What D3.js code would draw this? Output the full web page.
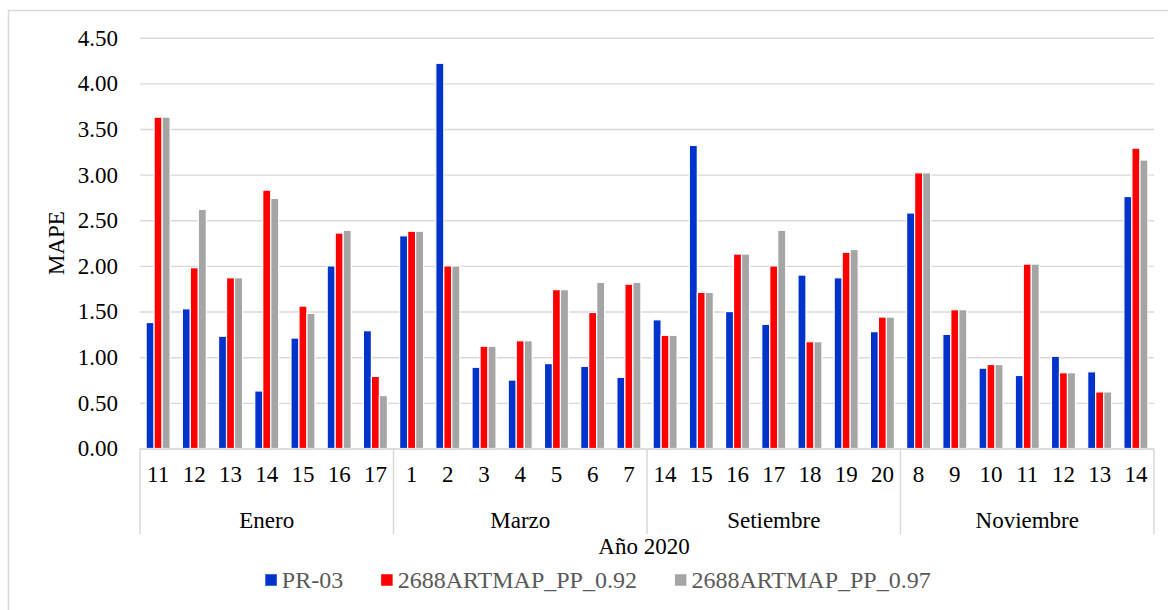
<!DOCTYPE html>
<html>
<head>
<meta charset="utf-8">
<script src="https://cdn.jsdelivr.net/npm/d3@7"></script>
<style>
  html, body { margin: 0; padding: 0; background: #fff; }
  svg { display: block; }
  svg text { font-family: "Liberation Serif", "Times New Roman", Tinos, "DejaVu Serif", serif !important; }
</style>
</head>
<body>
<svg id="chart" width="1168" height="610"></svg>
<script>
const monthNames = ["Enero", "Marzo", "Setiembre", "Noviembre"];
const monthDays = [
  ["11", "12", "13", "14", "15", "16", "17"],
  ["1", "2", "3", "4", "5", "6", "7"],
  ["14", "15", "16", "17", "18", "19", "20"],
  ["8", "9", "10", "11", "12", "13", "14"]
];
const seriesNames = ["PR-03", "2688ARTMAP_PP_0.92", "2688ARTMAP_PP_0.97"];
const pr03 = [1.38, 1.53, 1.23, 0.63, 1.21, 2.00, 1.29,
              2.33, 4.22, 0.89, 0.75, 0.93, 0.90, 0.78,
              1.41, 3.32, 1.50, 1.36, 1.90, 1.87, 1.28,
              2.58, 1.25, 0.88, 0.80, 1.01, 0.84, 2.76];
const artmap092 = [3.63, 1.98, 1.87, 2.83, 1.56, 2.36, 0.79,
                   2.38, 2.00, 1.12, 1.18, 1.74, 1.49, 1.80,
                   1.24, 1.71, 2.13, 2.00, 1.17, 2.15, 1.44,
                   3.02, 1.52, 0.92, 2.02, 0.83, 0.62, 3.29];
const artmap097 = [3.63, 2.62, 1.87, 2.74, 1.48, 2.39, 0.58,
                   2.38, 2.00, 1.12, 1.18, 1.74, 1.82, 1.82,
                   1.24, 1.71, 2.13, 2.39, 1.17, 2.18, 1.44,
                   3.02, 1.52, 0.92, 2.02, 0.83, 0.62, 3.16];
const yTicks = [0, 0.5, 1, 1.5, 2, 2.5, 3, 3.5, 4, 4.5];
const colors = ["#0033CC", "#FF0000", "#A5A5A5"];

const FONT = '"Liberation Serif", "Times New Roman", Tinos, "DejaVu Serif", serif';

// build categories
const cats = [];
monthNames.forEach((m, mi) => monthDays[mi].forEach((d, di) => cats.push({ key: m + "-" + d, month: m, day: d })));
const seriesValues = [pr03, artmap092, artmap097];

const svg = d3.select("#chart");
const W = 1168, H = 610;
const plot = { left: 140, right: 1154, top: 37.7, bottom: 448.5 };

svg.append("rect").attr("x", 0).attr("y", 0).attr("width", W).attr("height", H).attr("fill", "#fff");
svg.append("rect").attr("x", 8.5).attr("y", 10.5).attr("width", 1190).attr("height", 620)
  .attr("fill", "none").attr("stroke", "#d9d9d9").attr("stroke-width", 1.5);

const x0 = d3.scaleBand().domain(cats.map(c => c.key)).range([plot.left, plot.right]).paddingInner(0).paddingOuter(0);
const y = d3.scaleLinear().domain([0, 4.5]).range([plot.bottom, plot.top]);
const bw = x0.bandwidth();
const x1 = d3.scaleBand().domain(seriesNames).range([bw / 2 - 12, bw / 2 + 12]).padding(0);

// gridlines + y labels
const yAxis = d3.axisLeft(y).tickValues(yTicks).tickFormat(d3.format(".2f")).tickSize(-(plot.right - plot.left)).tickPadding(22);
const gy = svg.append("g").attr("transform", `translate(${plot.left},0)`).call(yAxis);
gy.attr("font-family", null);
gy.select(".domain").remove();
gy.selectAll(".tick line").attr("stroke", "#d9d9d9").attr("stroke-width", 1.4);
gy.selectAll(".tick text").attr("font-size", 23).attr("fill", "#000");

// bars
const gBars = svg.append("g");
cats.forEach((c, i) => {
  const g = gBars.append("g").attr("transform", `translate(${x0(c.key)},0)`);
  seriesNames.forEach((s, si) => {
    const v = seriesValues[si][i];
    g.append("rect")
      .attr("x", x1(s))
      .attr("y", y(v))
      .attr("width", x1.bandwidth())
      .attr("height", y(0) - y(v))
      .attr("fill", colors[si])
      .attr("stroke", "#fff")
      .attr("stroke-width", 1.2);
  });
});

// x axis (day labels)
const xAxis = d3.axisBottom(x0).tickSize(0).tickPadding(17).tickFormat(k => cats.find(c => c.key === k).day);
const gx = svg.append("g").attr("transform", `translate(0,${plot.bottom})`).call(xAxis);
gx.attr("font-family", null);
gx.select(".domain").remove();
gx.selectAll(".tick text").attr("font-size", 23).attr("fill", "#000");

// baseline
svg.append("line").attr("x1", plot.left).attr("x2", plot.right).attr("y1", plot.bottom + 0.5).attr("y2", plot.bottom + 0.5)
  .attr("stroke", "#d9d9d9").attr("stroke-width", 1.5);

// month separators + labels
let idx = 0;
const sepXs = [plot.left];
monthNames.forEach((m, mi) => {
  const first = cats[idx].key;
  const last = cats[idx + monthDays[mi].length - 1].key;
  const xs = x0(first), xe = x0(last) + bw;
  svg.append("text").attr("x", (xs + xe) / 2).attr("y", 520).attr("dy", "0.35em")
    .attr("text-anchor", "middle").attr("font-size", 23).attr("fill", "#000").text(m);
  sepXs.push(xe);
  idx += monthDays[mi].length;
});
sepXs.forEach(sx => {
  svg.append("line").attr("x1", sx).attr("x2", sx).attr("y1", plot.bottom).attr("y2", 534)
    .attr("stroke", "#d9d9d9").attr("stroke-width", 1.5);
});

// axis titles
svg.append("text").attr("x", (plot.left + plot.right) / 2 - 3).attr("y", 546).attr("dy", "0.35em")
  .attr("text-anchor", "middle").attr("font-size", 23).attr("fill", "#000").text("Año 2020");
svg.append("text").attr("transform", `translate(56,${(plot.top + plot.bottom) / 2}) rotate(-90)`).attr("dy", "0.35em")
  .attr("text-anchor", "middle").attr("font-size", 23).attr("fill", "#000").text("MAPE");

// legend
const leg = svg.append("g");
let lx = 0;
const sq = 11.5;
seriesNames.forEach((s, si) => {
  const it = leg.append("g").attr("transform", `translate(${lx},0)`);
  it.append("rect").attr("x", 0).attr("y", -sq / 2).attr("width", sq).attr("height", sq).attr("fill", colors[si]);
  const t = it.append("text").attr("x", sq + 5).attr("y", 0).attr("dy", "0.35em")
    .attr("font-size", 24).attr("fill", "#595959").style("font-family", FONT).text(s);
  lx += sq + 5 + t.node().getComputedTextLength() + 38;
});
const legW = lx - 38;
leg.attr("transform", `translate(${598 - legW / 2},580)`);

svg.selectAll("text").style("font-family", FONT);
</script>
</body>
</html>
